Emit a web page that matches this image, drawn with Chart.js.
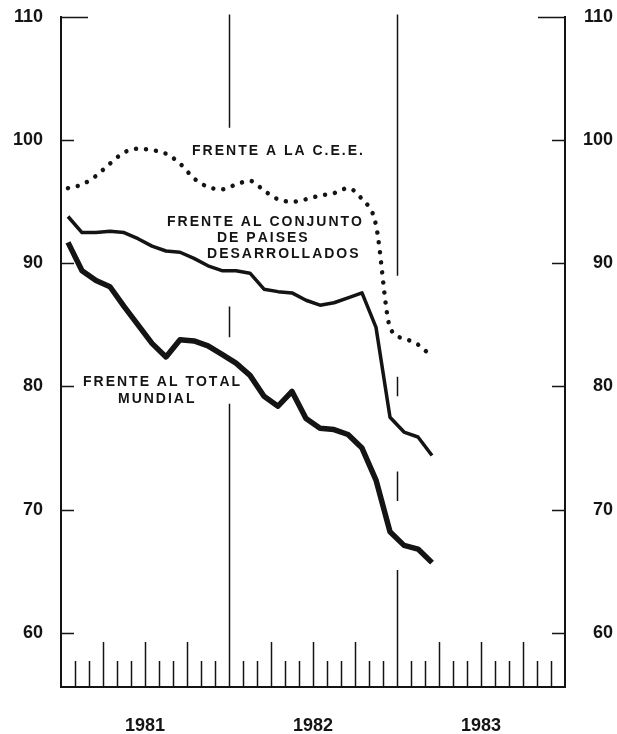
<!DOCTYPE html>
<html>
<head>
<meta charset="utf-8">
<script src="https://cdn.jsdelivr.net/npm/chart.js@4.4.0/dist/chart.umd.min.js"></script>
<style>
	html, body { margin: 0; padding: 0; background: #fff; }
	#chartContainer { display: block; }
</style>
</head>
<body>
<canvas id="chartContainer" width="617" height="734"></canvas>
<script>
"use strict";

// months with data, jan 1981 to mar 1983
var months = ['E-81', 'F-81', 'M-81', 'A-81', 'M-81', 'J-81', 'J-81', 'A-81', 'S-81', 'O-81', 'N-81', 'D-81',
	'E-82', 'F-82', 'M-82', 'A-82', 'M-82', 'J-82', 'J-82', 'A-82', 'S-82', 'O-82', 'N-82', 'D-82',
	'E-83', 'F-83', 'M-83'];

var years = ['1981', '1982', '1983'];

// frente a la c.e.e.
var ceeValues = [96.1, 96.4, 97.1, 98.1, 99.0, 99.3, 99.2, 98.9, 98.1, 96.9, 96.2, 96.0,
	96.4, 96.7, 95.9, 95.2, 95.0, 95.2, 95.5, 95.7, 96.1, 95.2, 93.1, 84.8, 83.9, 83.4, 82.4];

// frente al conjunto de paises desarrollados
var desarrolladosValues = [93.8, 92.5, 92.5, 92.6, 92.5, 92.0, 91.4, 91.0, 90.9, 90.4, 89.8, 89.4,
	89.4, 89.2, 87.9, 87.7, 87.6, 87.0, 86.6, 86.8, 87.2, 87.6, 84.8, 77.5, 76.3, 75.9, 74.4];

// frente al total mundial
var mundialValues = [91.7, 89.4, 88.6, 88.1, 86.5, 85.0, 83.5, 82.4, 83.8, 83.7, 83.3, 82.6,
	81.9, 80.9, 79.2, 78.4, 79.6, 77.4, 76.6, 76.5, 76.1, 75.0, 72.4, 68.2, 67.1, 66.8, 65.7];

var yTicks = [60, 70, 80, 90, 100, 110];

var ink = '#141414';
var font = "'Liberation Sans', Arial, Helvetica, sans-serif";

// text notes, placed in month / index units
var notes = [
	{ text: 'FRENTE A LA C.E.E.', x: 9.36, y: 99.1 },
	{ text: 'FRENTE AL CONJUNTO', x: 7.57, y: 93.36 },
	{ text: 'DE PAISES', x: 11.14, y: 92.06 },
	{ text: 'DESARROLLADOS', x: 10.43, y: 90.76 },
	{ text: 'FRENTE AL TOTAL', x: 1.57, y: 80.37 },
	{ text: 'MUNDIAL', x: 4.07, y: 79.0 }
];

// year separators, broken where curves and notes cross them
var yearLines = [
	{ x: 12, parts: [[101.0, 110.2], [84.0, 86.5], [55.6, 78.6]] },
	{ x: 24, parts: [[89.0, 110.2], [79.2, 80.8], [70.7, 73.1], [55.6, 65.1]] }
];

function toPoints(values) {
	return values.map(function(v, i) {
		return { x: i + 0.5, y: v };
	});
}

function spacedText(ctx, text, x, y, spacing) {
	var cx = x;
	for (var i = 0; i < text.length; i++) {
		ctx.fillText(text[i], cx, y);
		cx += ctx.measureText(text[i]).width + spacing;
	}
}

// y axes keep no extra room above and below, so 110 sits at the top edge
function fitY(width) {
	return function(scale) {
		scale.width = width;
		scale.paddingTop = 0;
		scale.paddingBottom = 0;
	};
}

var frame = {
	id: 'frame',
	beforeDatasetsDraw: function(chart) {
		var ctx = chart.ctx;
		var xs = chart.scales.x;
		var ys = chart.scales.y;
		var area = chart.chartArea;
		ctx.save();
		ctx.strokeStyle = ink;
		ctx.lineWidth = 1.5;
		ctx.beginPath();
		// month ticks, longer at quarters
		for (var m = 1; m < 36; m++) {
			if (m % 12 === 0) continue;
			var px = Math.round(xs.getPixelForValue(m)) + 0.5;
			var len = m % 3 === 0 ? 45 : 26;
			ctx.moveTo(px, area.bottom);
			ctx.lineTo(px, area.bottom - len);
		}
		// inward value ticks on both sides
		yTicks.forEach(function(v) {
			var py = Math.round(ys.getPixelForValue(v)) + 0.5;
			var len = v === 110 ? 27 : 13;
			ctx.moveTo(area.left, py);
			ctx.lineTo(area.left + len, py);
			ctx.moveTo(area.right, py);
			ctx.lineTo(area.right - len, py);
		});
		// year lines
		yearLines.forEach(function(line) {
			var px = Math.round(xs.getPixelForValue(line.x)) + 0.5;
			line.parts.forEach(function(p) {
				ctx.moveTo(px, ys.getPixelForValue(p[0]));
				ctx.lineTo(px, ys.getPixelForValue(p[1]));
			});
		});
		ctx.stroke();
		ctx.restore();
	},
	afterDraw: function(chart) {
		var ctx = chart.ctx;
		var xs = chart.scales.x;
		var ys = chart.scales.y;
		ctx.save();
		ctx.fillStyle = ink;
		ctx.font = 'bold 14px ' + font;
		ctx.textBaseline = 'middle';
		ctx.textAlign = 'left';
		notes.forEach(function(n) {
			spacedText(ctx, n.text, xs.getPixelForValue(n.x), ys.getPixelForValue(n.y), 2);
		});
		ctx.restore();
	}
};

var ctx = document.getElementById('chartContainer').getContext('2d');
var chart = new Chart(ctx, {
	type: 'line',
	data: {
		datasets: [{
			label: 'Frente a la C.E.E.',
			data: toPoints(ceeValues),
			borderColor: ink,
			borderWidth: 4.5,
			borderDash: [0.01, 10],
			borderCapStyle: 'round',
			cubicInterpolationMode: 'monotone',
			pointRadius: 0
		}, {
			label: 'Frente al conjunto de paises desarrollados',
			data: toPoints(desarrolladosValues),
			borderColor: ink,
			borderWidth: 3.5,
			borderJoinStyle: 'round',
			tension: 0,
			pointRadius: 0
		}, {
			label: 'Frente al total mundial',
			data: toPoints(mundialValues),
			borderColor: ink,
			borderWidth: 5.5,
			borderJoinStyle: 'round',
			tension: 0,
			pointRadius: 0
		}]
	},
	options: {
		responsive: false,
		animation: false,
		devicePixelRatio: 1,
		layout: {
			padding: { top: 17, right: 4, bottom: 0, left: 0 }
		},
		plugins: {
			legend: { display: false },
			tooltip: { enabled: false }
		},
		scales: {
			x: {
				type: 'linear',
				min: 0,
				max: 36,
				grid: { display: false, drawTicks: false },
				border: { display: true, color: ink, width: 2 },
				afterBuildTicks: function(scale) {
					scale.ticks = [6, 18, 30].map(function(v) { return { value: v }; });
				},
				afterFit: function(scale) {
					scale.height = 47;
					scale.paddingLeft = 0;
					scale.paddingRight = 0;
				},
				ticks: {
					padding: 28,
					maxRotation: 0,
					color: ink,
					font: { family: font, size: 18, weight: 'bold' },
					callback: function(value, index) { return years[index]; }
				}
			},
			y: {
				position: 'left',
				min: 55.6,
				max: 110,
				grid: { display: false, drawTicks: false },
				border: { display: true, color: ink, width: 2 },
				afterBuildTicks: function(scale) {
					scale.ticks = yTicks.map(function(v) { return { value: v }; });
				},
				afterFit: fitY(61),
				ticks: {
					padding: 18,
					color: ink,
					font: { family: font, size: 18, weight: 'bold' }
				}
			},
			y2: {
				position: 'right',
				min: 55.6,
				max: 110,
				grid: { display: false, drawTicks: false },
				border: { display: true, color: ink, width: 2 },
				afterBuildTicks: function(scale) {
					scale.ticks = yTicks.map(function(v) { return { value: v }; });
				},
				afterFit: fitY(48),
				ticks: {
					crossAlign: 'far',
					color: ink,
					font: { family: font, size: 18, weight: 'bold' }
				}
			}
		}
	},
	plugins: [frame]
});
</script>
</body>
</html>
